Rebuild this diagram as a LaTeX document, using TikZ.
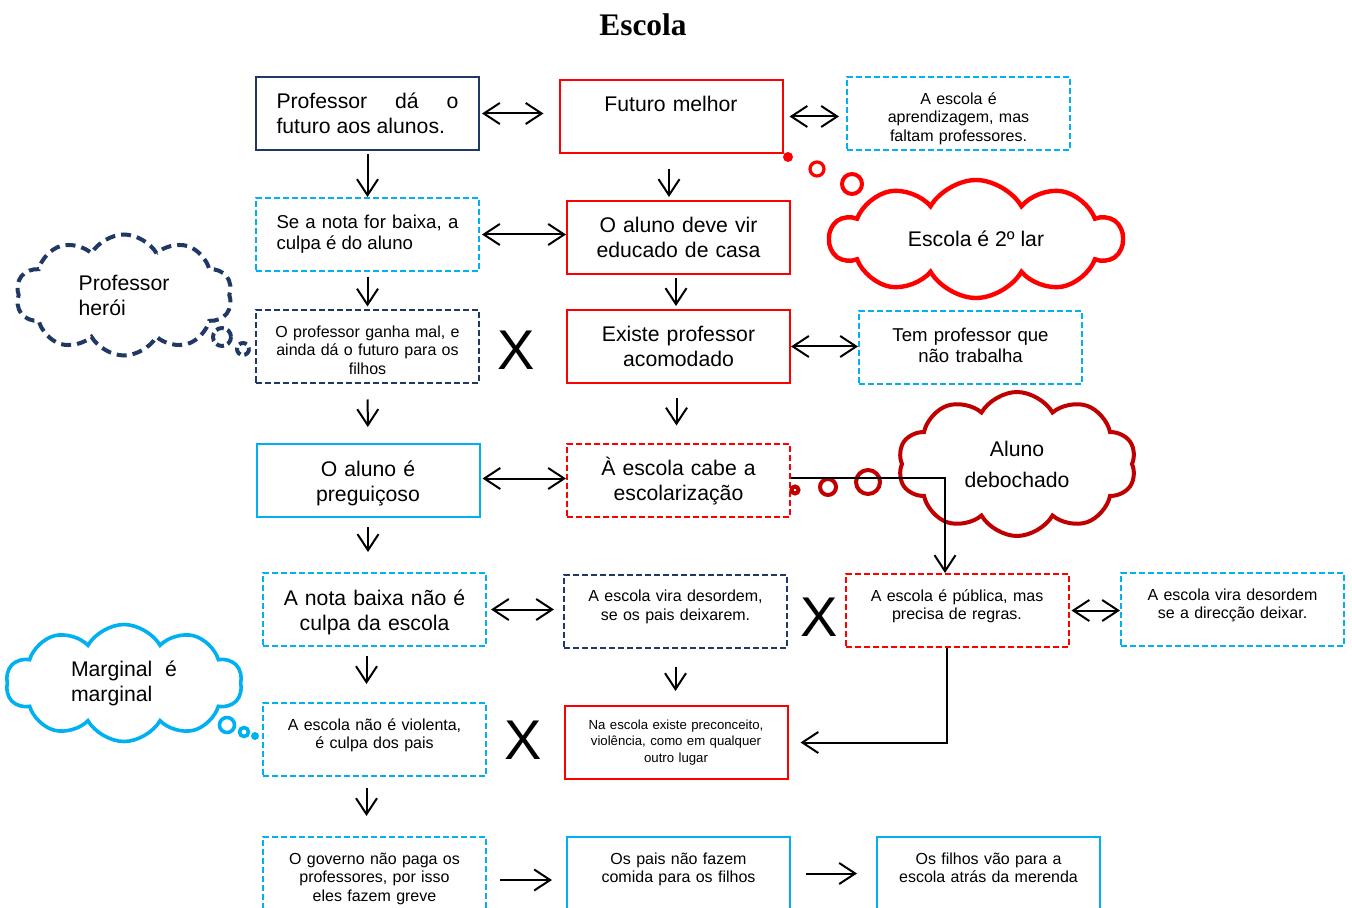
\documentclass[tikz,border=0pt]{standalone}
\usepackage{fontspec}
\setmainfont{Liberation Sans}
\newfontfamily\titlefont{Liberation Serif}
\usepackage{tikz}
\usetikzlibrary{arrows.meta,shapes.symbols}

\definecolor{navyblue}{RGB}{32,56,100}
\definecolor{skyblue}{RGB}{0,176,240}
\definecolor{brightred}{RGB}{255,0,0}
\definecolor{darkred}{RGB}{192,0,0}

\hyphenpenalty=10000
\exhyphenpenalty=10000

\begin{document}
\begin{tikzpicture}[x=0.5pt, y=-0.5pt, >={Straight Barb[length=8pt,width=10.5pt]},
    box/.style={draw, line width=1pt, minimum width=111.5pt, minimum height=36.5pt,
        text width=93pt, inner xsep=9.25pt, inner ysep=0pt, align=center},
    dashbox/.style={box, dash pattern=on 3pt off 1.5pt},
    wide/.style={text width=91pt, inner xsep=10.25pt, align=justify},
    big/.style={font=\fontsize{10.6}{12.5}\selectfont, text height=16pt, text depth=20.5pt},
    mid/.style={font=\fontsize{9.3}{10.4}\selectfont, text height=15.5pt, text depth=21pt},
    small/.style={font=\fontsize{8}{9.25}\selectfont, text height=13.5pt, text depth=23pt},
    tiny/.style={font=\fontsize{6.6}{8.25}\selectfont, text height=11.5pt, text depth=25pt},
    cross/.style={font=\fontsize{28}{28}\selectfont, inner sep=0pt},
    thought/.style={cloud, cloud puffs=10, cloud puff arc=120, cloud ignores aspect,
        align=center, font=\fontsize{10.6}{12.5}\selectfont},
    link/.style={->, line width=1pt},
    both/.style={<->, line width=1pt}]

    % --- 1. Frame and title ---
    \useasboundingbox (0,0) rectangle (1352,908);
    \node[font=\fontsize{15.7}{18}\titlefont\bfseries] (title) at (643,25) {Escola};

    % --- 2. Left column ---
    \node[box, big, wide, draw=navyblue] (prof) at (367.5,113.5) {Professor dá o futuro aos alunos.};
    \node[dashbox, mid, wide, draw=skyblue] (nota) at (367.5,234.5) {Se a nota for baixa, a culpa é do aluno};
    \node[dashbox, small, draw=navyblue] (ganha) at (367.5,347) {O professor ganha mal, e\\ainda dá o futuro para os\\filhos};
    \node[box, big, draw=skyblue] (preguica) at (368,480.5) {O aluno é\\preguiçoso};
    \node[dashbox, big, draw=skyblue] (notabaixa) at (374.5,609.5) {A nota baixa não é\\culpa da escola};
    \node[dashbox, small, draw=skyblue] (violenta) at (374.5,739.5) {A escola não é violenta,\\é culpa dos pais};
    \node[dashbox, small, draw=skyblue] (governo) at (374.5,873.5) {O governo não paga os\\professores, por isso\\eles fazem greve};

    % --- 3. Middle column ---
    \node[box, big, draw=brightred] (futuro) at (671,116.5) {Futuro melhor};
    \node[box, big, draw=brightred] (educado) at (678.5,237.5) {O aluno deve vir\\educado de casa};
    \node[box, big, draw=brightred] (acomodado) at (678.5,346.5) {Existe professor\\acomodado};
    \node[dashbox, big, draw=brightred] (escolariza) at (678.5,480) {À escola cabe a\\escolarização};
    \node[dashbox, small, draw=navyblue] (desordem) at (675.5,611) {A escola vira desordem,\\se os pais deixarem.};
    \node[box, tiny, draw=brightred] (preconceito) at (676,742.5) {Na escola existe preconceito,\\violência, como em qualquer\\outro lugar};
    \node[box, small, draw=skyblue] (comida) at (678.5,873.5) {Os pais não fazem\\comida para os filhos};

    % --- 4. Right column ---
    \node[dashbox, small, draw=skyblue] (aprendiz) at (958.5,114) {A escola é\\aprendizagem, mas\\faltam professores.};
    \node[dashbox, mid, draw=skyblue] (trabalha) at (970.5,347.5) {Tem professor que\\não trabalha};
    \node[dashbox, small, draw=brightred] (publica) at (957,610.5) {A escola é pública, mas\\precisa de regras.};
    \node[dashbox, small, draw=skyblue] (direccao) at (1232.5,609.5) {A escola vira desordem\\se a direcção deixar.};
    \node[box, small, draw=skyblue] (merenda) at (988.5,873.5) {Os filhos vão para a\\escola atrás da merenda};

    % --- 5. Thought clouds ---
    \node[thought, draw=brightred, line width=2.2pt, minimum width=146pt, minimum height=59pt] (lar) at (976,239) {Escola é 2º lar};
    \fill[brightred] (788,157) circle[radius=5];
    \draw[brightred, line width=1.6pt] (817,169) circle[radius=7];
    \draw[brightred, line width=2pt] (852,184) circle[radius=10];

    \node[thought, draw=darkred, line width=2pt, minimum width=119pt, minimum height=72pt] (debochado) at (1017,464) {Aluno\\[3pt]debochado};
    \draw[darkred, line width=2pt] (795,490) circle[radius=3.5];
    \draw[darkred, line width=2pt] (828,487) circle[radius=8];
    \draw[darkred, line width=2pt] (868,482) circle[radius=12];

    \node[thought, draw=navyblue, line width=2pt, dash pattern=on 5pt off 3pt, minimum width=108pt, minimum height=60.5pt, align=left] (heroi) at (124,295) {Professor\\herói};
    \draw[navyblue, line width=2pt, dash pattern=on 4pt off 2pt] (222,337) circle[radius=9];
    \draw[navyblue, line width=2pt, dash pattern=on 4pt off 2pt] (243,349) circle[radius=6];

    \node[thought, draw=skyblue, line width=1.8pt, minimum width=118pt, minimum height=58.5pt, text width=53pt, align=justify] (marginal) at (124,683) {Marginal é marginal};
    \draw[skyblue, line width=1.8pt] (227,725) circle[radius=7.5];
    \draw[skyblue, line width=1.8pt] (244,732) circle[radius=4.5];
    \fill[skyblue] (255,736) circle[radius=4];

    % --- 6. Crosses ---
    \node[cross] (xa) at (516,350) {X};
    \node[cross] (xb) at (819,617) {X};
    \node[cross] (xc) at (523,740) {X};

    % --- 7. Connectors ---
    \draw[link, shorten <=1.5pt] (prof) -- (nota);
    \draw[link, shorten <=2.5pt, shorten >=1.5pt] (nota) -- (ganha);
    \draw[link, shorten <=7.5pt, shorten >=8pt] (ganha) -- (preguica);
    \draw[link, shorten <=4.5pt, shorten >=10pt] (preguica.south) -- (preguica.south |- notabaixa.north);
    \draw[link, shorten <=4.5pt, shorten >=9pt] ([xshift=-4pt]notabaixa.south) -- ([xshift=-4pt]violenta.north);
    \draw[link, shorten <=5.5pt, shorten >=10pt] ([xshift=-4pt]violenta.south) -- ([xshift=-4pt]governo.north);

    \draw[link, shorten <=7.5pt, shorten >=1.5pt] ([xshift=-1pt]futuro.south) -- ([xshift=-1pt]futuro.south |- educado.north);
    \draw[link, shorten <=1.5pt, shorten >=1.5pt] ([xshift=-1.25pt]educado.south) -- ([xshift=-1.25pt]acomodado.north);
    \draw[link, shorten <=7pt, shorten >=8.5pt] ([xshift=-1pt]acomodado.south) -- ([xshift=-1pt]escolariza.north);
    \draw[link, shorten <=9pt, shorten >=7pt] (desordem.south) -- (desordem.south |- preconceito.north);

    \draw[both, shorten <=1pt, shorten >=7.5pt] (prof.east) -- (prof.east -| futuro.west);
    \draw[both, shorten <=3pt, shorten >=3.5pt] (futuro.east) -- (futuro.east -| aprendiz.west);
    \draw[both, shorten <=1pt] (nota.east) -- (nota.east -| educado.west);
    \draw[both] (acomodado.east) -- (acomodado.east -| trabalha.west);
    \draw[both, shorten <=1pt] ([yshift=1pt]preguica.east) -- ([yshift=1pt]preguica.east -| escolariza.west);
    \draw[both, shorten <=2pt, shorten >=4.5pt] (notabaixa.east) -- (notabaixa.east -| desordem.west);
    \draw[both, shorten <=1pt] (publica.east) -- (publica.east -| direccao.west);

    \draw[link] ([yshift=1pt]escolariza.east) -| ([xshift=-6pt]publica.north);
    \draw[link, shorten >=6pt] ([xshift=-5pt]publica.south) |- (preconceito.east);

    \draw[link, shorten <=6.5pt, shorten >=7pt] ([yshift=-3.25pt]governo.east) -- ([yshift=-3.25pt]governo.east -| comida.west);
    \draw[link, shorten <=7.5pt, shorten >=9.5pt] (comida.east) -- (comida.east -| merenda.west);
\end{tikzpicture}
\end{document}
